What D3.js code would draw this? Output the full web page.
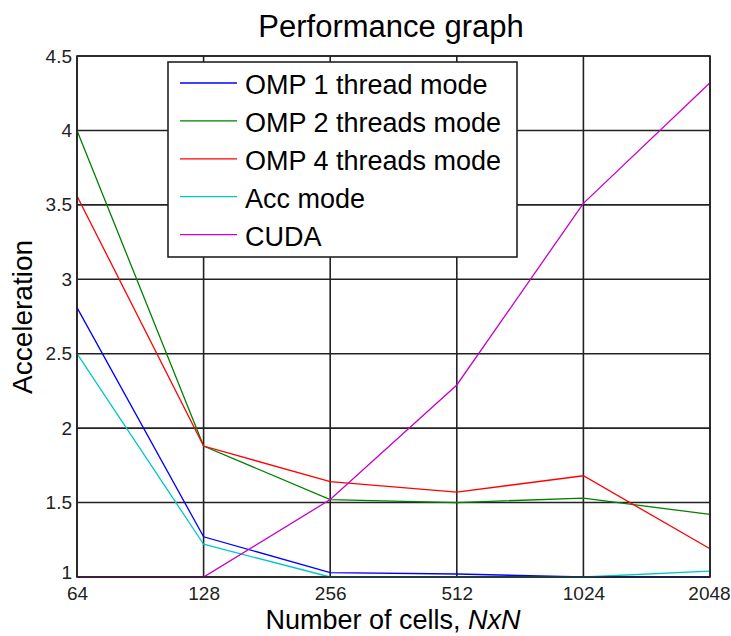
<!DOCTYPE html>
<html>
<head>
<meta charset="utf-8">
<script src="https://cdn.jsdelivr.net/npm/d3@7"></script>
<style>
  body { margin: 0; background: #fff; }
  text { font-family: "Liberation Sans", Arial, sans-serif; }
</style>
</head>
<body>
<svg id="chart" width="731" height="636"></svg>
<script>
// chart values
let cells = [64, 128, 256, 512, 1024, 2048];
let omp1 = [2.81, 1.27, 1.03, 1.02, 1.0, 1.0];
let omp2 = [4.0, 1.88, 1.52, 1.50, 1.53, 1.42];
let omp4 = [3.56, 1.88, 1.64, 1.57, 1.68, 1.19];
let acc = [2.5, 1.22, 1.0, 1.0, 1.0, 1.04];
let cuda = [1.0, 1.0, 1.52, 2.29, 3.51, 4.32];
let yTicks = [1, 1.5, 2, 2.5, 3, 3.5, 4, 4.5];
let seriesNames = ["OMP 1 thread mode", "OMP 2 threads mode", "OMP 4 threads mode", "Acc mode", "CUDA"];
let seriesColors = ["#0000ff", "#008000", "#ff0000", "#00c8c8", "#c800c8"];

let series = [omp1, omp2, omp4, acc, cuda];

let svg = d3.select("#chart");
let pLeft = 77, pRight = 710, pTop = 56, pBottom = 577;

let xScale = d3.scaleLog().base(2)
  .domain([64, 2048])
  .range([pLeft, pRight]);
let yScale = d3.scaleLinear()
  .domain([1, 4.5])
  .range([pBottom, pTop]);

// grid lines
let grid = svg.append("g");
grid.selectAll("line.gx").data(cells).enter().append("line")
  .attr("x1", d => xScale(d)).attr("x2", d => xScale(d))
  .attr("y1", pTop).attr("y2", pBottom)
  .attr("stroke", "#222").attr("stroke-width", 1.6);
grid.selectAll("line.gy").data(yTicks).enter().append("line")
  .attr("x1", pLeft).attr("x2", pRight)
  .attr("y1", d => yScale(d)).attr("y2", d => yScale(d))
  .attr("stroke", "#222").attr("stroke-width", 1.6);

// lines
let line = d3.line()
  .x((d, i) => xScale(cells[i]))
  .y(d => yScale(d));
svg.append("g").selectAll("path").data(series).enter().append("path")
  .attr("d", d => line(d))
  .attr("fill", "none")
  .attr("stroke", (d, i) => seriesColors[i])
  .attr("stroke-width", 1.3);

// frame
svg.append("rect")
  .attr("x", pLeft).attr("y", pTop)
  .attr("width", pRight - pLeft).attr("height", pBottom - pTop)
  .attr("fill", "none").attr("stroke", "#222").attr("stroke-width", 1.6);

// axes
let yAxis = d3.axisLeft(yScale).tickValues(yTicks).tickSize(0).tickPadding(5)
  .tickFormat(d3.format("~g"));
svg.append("g")
  .attr("transform", "translate(" + pLeft + ",0)")
  .call(yAxis)
  .call(g => g.select(".domain").remove())
  .selectAll("text")
  .attr("font-size", 19).attr("fill", "#222")
  .attr("dy", d => d == 1 ? "0.1em" : "0.32em")
  .style("font-family", "'Liberation Sans', Arial, sans-serif");

let xAxis = d3.axisBottom(xScale).tickValues(cells).tickSize(0).tickPadding(10)
  .tickFormat(d3.format("d"));
svg.append("g")
  .attr("transform", "translate(0," + pBottom + ")")
  .call(xAxis)
  .call(g => g.select(".domain").remove())
  .selectAll("text")
  .attr("font-size", 19).attr("fill", "#222")
  .attr("dx", d => d == 2048 ? -1 : 0)
  .style("font-family", "'Liberation Sans', Arial, sans-serif");

// titles
svg.append("text")
  .attr("x", 391).attr("y", 37)
  .attr("text-anchor", "middle")
  .attr("font-size", 31)
  .text("Performance graph");

let xl = svg.append("text")
  .attr("x", 393).attr("y", 629)
  .attr("text-anchor", "middle")
  .attr("font-size", 27);
xl.append("tspan").text("Number of cells, ");
xl.append("tspan").attr("font-style", "italic").text("NxN");

svg.append("text")
  .attr("transform", "translate(32,317) rotate(-90)")
  .attr("text-anchor", "middle")
  .attr("font-size", 28)
  .text("Acceleration");

// legend
let legend = svg.append("g");
legend.append("rect")
  .attr("x", 168).attr("y", 62)
  .attr("width", 349).attr("height", 195)
  .attr("fill", "#fff").attr("stroke", "#222").attr("stroke-width", 1.6);
let items = legend.selectAll("g.item").data(seriesNames).enter().append("g")
  .attr("transform", (d, i) => "translate(0," + (83 + i * 37.9) + ")");
items.append("line")
  .attr("x1", 180).attr("x2", 237)
  .attr("stroke", (d, i) => seriesColors[i]).attr("stroke-width", 1.3);
items.append("text")
  .attr("x", 245).attr("y", 11)
  .attr("font-size", 27)
  .text(d => d);
</script>
</body>
</html>
